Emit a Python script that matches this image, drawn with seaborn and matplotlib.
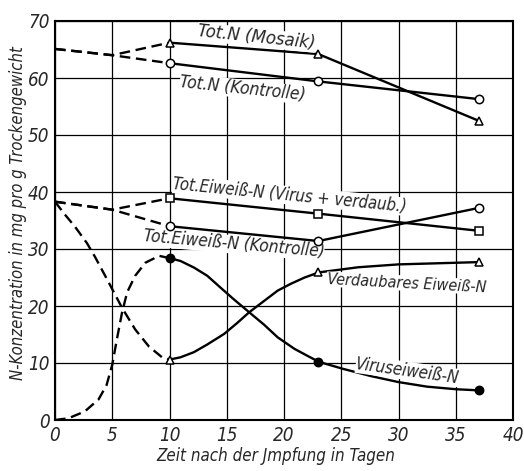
import matplotlib
matplotlib.use("Agg")
import matplotlib.pyplot as plt
from matplotlib import font_manager as fm
import seaborn as sns

sns.set_theme(style="white")

# ---- data ----
days = [10, 23, 37]
totn_mosaik = [66.2, 64.2, 52.5]
totn_kontrolle = [62.6, 59.4, 56.3]
eiw_virus_verd = [38.9, 36.2, 33.2]
eiw_kontrolle = [34.0, 31.4, 37.2]

early_days = [0, 5, 10]
totn_mosaik_early = [65.1, 64.0, 66.2]
totn_kontrolle_early = [65.1, 64.0, 62.6]
eiw_virus_verd_early = [38.3, 36.9, 38.9]
eiw_kontrolle_early = [38.3, 36.9, 34.0]

verd_early_x = [0, 0.8, 1.75, 2.8, 3.5, 4.7, 5.85, 7.0, 8.2, 9.35, 10]
verd_early_y = [38.3, 36.2, 33.9, 31.0, 28.6, 24.1, 19.7, 15.9, 12.9, 11.0, 10.6]
verd_x = [10, 10.96, 12.13, 13.3, 14.77, 15.9, 16.96, 18.27, 19.45, 20.6, 21.8, 23.05,
          26.5, 30, 37]
verd_y = [10.6, 11.0, 11.9, 13.25, 15.1, 17.0, 18.9, 20.9, 22.7, 23.9, 25.0, 25.9,
          26.8, 27.3, 27.7]
verd_pts_x = [10, 23, 37]
verd_pts_y = [10.6, 25.9, 27.7]

virus_early_x = [0, 1.17, 2.6, 3.8, 4.5, 5.0, 5.4, 5.85, 6.3, 7.0, 7.9, 9.1, 10]
virus_early_y = [0, 0.3, 1.5, 3.6, 6.1, 9.7, 14.1, 18.8, 22.4, 25.3, 27.6, 28.8, 28.4]
virus_x = [10, 10.96, 12.13, 13.3, 14.47, 15.6, 16.96, 18.27, 19.45, 20.9, 22.1, 23.05,
           25.2, 27.6, 30, 32.5, 35, 37]
virus_y = [28.4, 27.9, 26.75, 25.3, 23.2, 21.2, 18.9, 16.7, 14.5, 12.5, 11.2, 10.2,
           8.95, 7.7, 6.65, 5.85, 5.4, 5.2]
virus_pts_x = [10, 23, 37]
virus_pts_y = [28.4, 10.2, 5.2]

labels = ["Tot.N (Mosaik)", "Tot.N (Kontrolle)",
          "Tot.Eiweiß-N (Virus + verdaub.)", "Tot.Eiweiß-N (Kontrolle)",
          "Verdaubares Eiweiß-N", "Viruseiweiß-N"]
label_x = [17.6, 16.4, 20.5, 15.6, 30.7, 30.8]
label_y = [67.1, 58.1, 39.4, 30.8, 24.0, 8.6]
label_rot = [-6, -6, -5.6, -5, -3, -8]
label_size = [13.3, 12.5, 12.0, 12.4, 11.6, 12.2]

x_ticks = [0, 5, 10, 15, 20, 25, 30, 35, 40]
y_ticks = [0, 10, 20, 30, 40, 50, 60, 70]

# ---- pick a condensed italic sans if one is installed ----
def pick_font():
    fl = fm.fontManager.ttflist
    def cond(f):
        s = str(f.stretch).lower()
        return ('condensed' in s or 'narrow' in s or 'Condensed' in f.name or 'Narrow' in f.name
                or (isinstance(f.stretch, int) and f.stretch < 500))
    prefs = ['DejaVu Sans', 'DejaVu Sans Condensed', 'Liberation Sans Narrow',
             'Roboto Condensed', 'Noto Sans', 'Noto Sans Condensed', 'Open Sans',
             'Open Sans Condensed', 'Roboto']
    for fam in prefs:
        for f in fl:
            if f.name == fam and cond(f) and f.style in ('italic', 'oblique') \
                    and f.weight in (400, 'normal', 'regular', 500, 'medium', 'book'):
                return dict(fname=f.fname)
    for f in fl:
        if cond(f) and f.style in ('italic', 'oblique'):
            return dict(fname=f.fname)
    return dict(family='DejaVu Sans', style='italic', stretch='condensed')

FONT = pick_font()
def fp(size):
    return fm.FontProperties(size=size, **FONT)

fig = plt.figure(figsize=(5.24, 4.71), dpi=100)
ax = fig.add_axes([55/524, 1-420/471, (513-55)/524, (420-21)/471])

LW = 1.7
dash = (4.5, 2.4)

def dashed(x, y):
    sns.lineplot(x=x, y=y, ax=ax, color='black', lw=LW, sort=False,
                 estimator=None, linestyle=(0, dash))

def solid(x, y):
    sns.lineplot(x=x, y=y, ax=ax, color='black', lw=LW, sort=False, estimator=None)

def pts(x, y, marker, fill):
    ax.plot(x, y, linestyle='none', marker=marker, markersize=6 if marker != 's' else 5.5,
            markerfacecolor=fill, markeredgecolor='black', markeredgewidth=1.1, zorder=5)

for ex, sx in [(totn_mosaik_early, totn_mosaik), (totn_kontrolle_early, totn_kontrolle),
               (eiw_virus_verd_early, eiw_virus_verd), (eiw_kontrolle_early, eiw_kontrolle)]:
    dashed(early_days, ex)
    solid(days, sx)

dashed(verd_early_x, verd_early_y)
solid(verd_x, verd_y)
dashed(virus_early_x, virus_early_y)
solid(virus_x, virus_y)

pts(days, totn_mosaik, '^', 'white')
pts(days, totn_kontrolle, 'o', 'white')
pts(days, eiw_virus_verd, 's', 'white')
pts(days, eiw_kontrolle, 'o', 'white')
pts(verd_pts_x, verd_pts_y, '^', 'white')
pts(virus_pts_x, virus_pts_y, 'o', 'black')

for t, lx, ly, r, fs in zip(labels, label_x, label_y, label_rot, label_size):
    ax.text(lx, ly, t, rotation=r, ha='center', va='center', fontproperties=fp(fs),
            rotation_mode='anchor', zorder=4,
            bbox=dict(facecolor='white', edgecolor='none', pad=0.1))

ax.set_xlim(0, 40)
ax.set_ylim(0, 70)
ax.set_xticks(x_ticks)
ax.set_yticks(y_ticks)
ax.set_xticklabels([str(v) for v in x_ticks], fontproperties=fp(13.5))
ax.set_yticklabels([str(v) for v in y_ticks], fontproperties=fp(13.5))
ax.tick_params(length=0, pad=4)
ax.grid(True, color='black', lw=0.9)
ax.set_axisbelow(True)
for s in ax.spines.values():
    s.set_color('black')
    s.set_linewidth(1.5)
ax.set_xlabel("Zeit nach der Jmpfung in Tagen", fontproperties=fp(12.2))
ax.set_ylabel("N-Konzentration in mg pro g Trockengewicht", fontproperties=fp(12.0))
ax.xaxis.set_label_coords(0.483, -0.068)
ax.yaxis.set_label_coords(-0.062, 0.518)

fig.savefig("out.png", dpi=100)
